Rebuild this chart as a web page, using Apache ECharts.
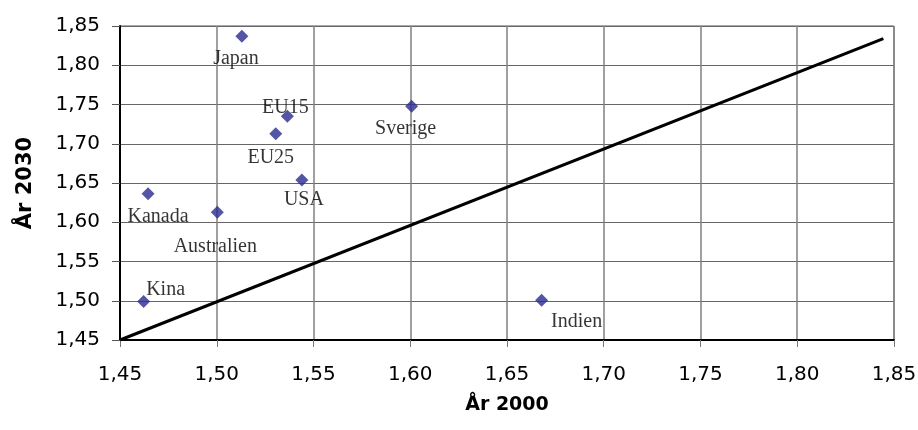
<!DOCTYPE html>
<html>
<head>
<meta charset="utf-8">
<script src="https://cdn.jsdelivr.net/npm/echarts@6/dist/echarts.min.js"></script>
<style>
html,body{margin:0;padding:0;background:#fff;}
#chart{width:918px;height:430px;}
</style>
</head>
<body>
<div id="chart"></div>
<script>
// Data
var countries = ['Japan','EU15','EU25','USA','Kanada','Australien','Kina','Sverige','Indien'];
var year2000 = [1.513, 1.5365, 1.5305, 1.544, 1.4645, 1.5003, 1.4622, 1.6007, 1.6679];
var year2030 = [1.837, 1.735, 1.7126, 1.6537, 1.6363, 1.6126, 1.4989, 1.7478, 1.5005];
var refLineX = [1.45, 1.8445];
var refLineY = [1.45, 1.834];
var xTicks = ['1,45','1,50','1,55','1,60','1,65','1,70','1,75','1,80','1,85'];
var yTicks = ['1,45','1,50','1,55','1,60','1,65','1,70','1,75','1,80','1,85'];

// Label placement (style only)
var labelOffsets = [[-6,23],[-2,-9],[-5,24],[2,20],[10,23],[-2,34],[22,-12],[-6,23],[35,21]];

var tickFmt = function(list){
  return function(v){
    var i = Math.round((v - 1.45) / 0.05);
    return list[i] !== undefined ? list[i] : '';
  };
};

var scatterData = countries.map(function(name, i){
  return {
    name: name,
    value: [year2000[i], year2030[i]],
    label: {offset: labelOffsets[i]}
  };
});
var lineData = refLineX.map(function(x, i){ return [x, refLineY[i]]; });

var chart = echarts.init(document.getElementById('chart'), null, {renderer:'canvas'});
chart.setOption({
  animation: false,
  backgroundColor: '#ffffff',
  grid: {left:120, right:24, top:26, bottom:90, show:true, borderColor:'#555', borderWidth:1,
         containLabel:false, outerBoundsMode:'none'},
  xAxis: {
    type:'value', min:1.45, max:1.85, interval:0.05,
    name:'År 2000', nameLocation:'middle', nameGap:56,
    nameTextStyle:{fontFamily:'DejaVu Sans', fontWeight:'bold', fontSize:19, color:'#000'},
    axisLine:{show:true, onZero:false, lineStyle:{color:'#000', width:2}},
    axisTick:{show:true, length:7, lineStyle:{color:'#777', width:1}},
    axisLabel:{fontFamily:'DejaVu Sans', fontSize:20, color:'#000', margin:25, formatter:tickFmt(xTicks)},
    splitLine:{show:true, lineStyle:{color:'#808080', width:1.5}}
  },
  yAxis: {
    type:'value', min:1.45, max:1.85, interval:0.05,
    name:'År 2030', nameLocation:'middle', nameGap:84,
    nameTextStyle:{fontFamily:'DejaVu Sans', fontWeight:'bold', fontSize:21, color:'#000'},
    axisLine:{show:true, onZero:false, lineStyle:{color:'#000', width:2}},
    axisTick:{show:true, length:8, lineStyle:{color:'#555', width:1}},
    axisLabel:{fontFamily:'DejaVu Sans', fontSize:20, color:'#000', margin:20, formatter:tickFmt(yTicks)},
    splitLine:{show:true, lineStyle:{color:'#666', width:1}}
  },
  series: [
    {
      type:'line', data:lineData, symbol:'none', z:3,
      lineStyle:{color:'#000', width:3}
    },
    {
      type:'scatter', data:scatterData, symbol:'diamond', symbolSize:13, z:4,
      itemStyle:{color:'#2A2A92'},
      label:{show:true, position:'inside', formatter:'{b}',
        fontFamily:'Liberation Serif', fontSize:20, color:'#000'}
    }
  ]
});
</script>
</body>
</html>
